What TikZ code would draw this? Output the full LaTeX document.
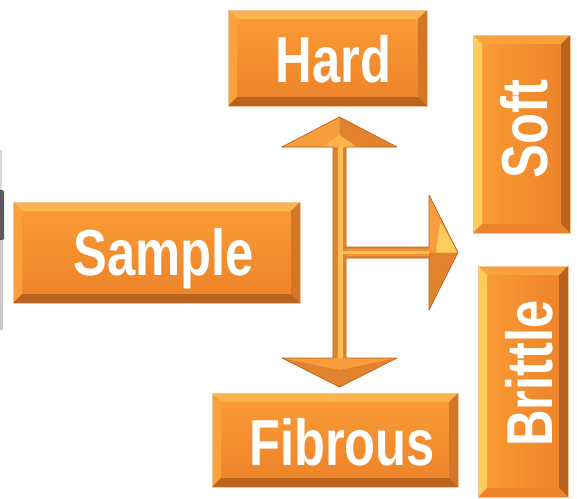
\documentclass[tikz,border=0pt]{standalone}
\usepackage{fontspec}
\setmainfont{Liberation Sans}
\usetikzlibrary{calc}
\definecolor{oMain}{HTML}{F7922F}
\definecolor{oTop}{HTML}{FB9C36}
\definecolor{oBot}{HTML}{EC8229}
\definecolor{bLight}{HTML}{FDB44C}
\definecolor{bYel}{HTML}{FFCC5E}
\definecolor{bMid}{HTML}{F9A23C}
\definecolor{bDark}{HTML}{B9631F}
\definecolor{bDark2}{HTML}{D27629}
\definecolor{bEdge}{HTML}{F2C49A}
\definecolor{aLine}{HTML}{B8621F}
\definecolor{aL}{HTML}{F99C3C}
\definecolor{aD}{HTML}{E3822D}
\definecolor{aStripe}{HTML}{FDBE5A}
\newcommand{\bevcorners}{%
  \path (path picture bounding box.north west) coordinate (pnw)
        (path picture bounding box.south east) coordinate (pse);
  \path (pnw |- pse) coordinate (psw) (pse |- pnw) coordinate (pne);
  \path ([shift={(9pt,-9pt)}]pnw) coordinate (qnw)
        ([shift={(-9pt,-9pt)}]pne) coordinate (qne)
        ([shift={(-9pt,9pt)}]pse) coordinate (qse)
        ([shift={(9pt,9pt)}]psw) coordinate (qsw);
}
\newcommand{\bevelH}{%
  \bevcorners
  \shade[top color=oTop, bottom color=oBot] (pnw) rectangle (pse);
  \fill[bLight] (pnw) -- (pne) -- (qne) -- (qnw) -- cycle;
  \fill[bMid] (pnw) -- (qnw) -- (qsw) -- (psw) -- cycle;
  \fill[bDark2] (pne) -- (pse) -- (qse) -- (qne) -- cycle;
  \fill[bDark] (psw) -- (qsw) -- (qse) -- (pse) -- cycle;
}
\newcommand{\bevelV}{%
  \bevcorners
  \shade[left color=oTop, right color=oBot] (pnw) rectangle (pse);
  \fill[bMid] (pnw) -- (pne) -- (qne) -- (qnw) -- cycle;
  \fill[bYel] (pnw) -- (qnw) -- (qsw) -- (psw) -- cycle;
  \fill[bDark] (pne) -- (pse) -- (qse) -- (qne) -- cycle;
  \fill[oBot] (psw) -- (qsw) -- (qse) -- (pse) -- cycle;
}
\tikzset{
  bx/.style={inner sep=0pt, outer sep=0pt, fill=oMain, draw=bEdge, line width=0.5pt},
  hbx/.style={bx, path picture={\bevelH}},
  vbx/.style={bx, path picture={\bevelV}},
  lbl/.style={inner sep=0pt, text=white, font=\fontsize{65}{70}\selectfont\bfseries, anchor=base},
  afacet/.style={line width=0pt}
}
\begin{document}
\begin{tikzpicture}[x=1pt,y=-1pt]
\useasboundingbox (0,0) rectangle (577,498);
% cropped fragment at left edge
\fill[black!15] (0,150) rectangle (2,190);
\fill[black!65, rounded corners=1.5pt] (-3,190) rectangle (4,240);
\fill[black!20] (0,240) rectangle (3,330);
% boxes
\node[hbx, minimum width=287pt, minimum height=101pt] (sample) at (156.5,252.5) {};
\node[hbx, minimum width=199pt, minimum height=96pt] (hard) at (327.5,58) {};
\node[hbx, minimum width=246pt, minimum height=94pt] (fibrous) at (335,440) {};
\node[vbx, minimum width=97pt, minimum height=198pt] (soft) at (521.5,134) {};
\node[vbx, minimum width=90pt, minimum height=231pt] (brittle) at (523,381.5) {};
% labels
\node[lbl] (sampleT) at (164,275) {\scalebox{0.78}[1]{Sample}};
\node[lbl] (hardT) at (333.5,82) {\scalebox{0.78}[1]{Hard}};
\node[lbl] (fibrousT) at (342,465) {\scalebox{0.78}[1]{Fibrous}};
\node[lbl, rotate=90] (softT) at (547,129) {\scalebox{0.78}[1]{Soft}};
\node[lbl, rotate=90] (brittleT) at (552,373.5) {\scalebox{0.78}[1]{Brittle}};
% three-way arrow
\coordinate (J) at (339.5,252.5);
\coordinate (tipU) at (339.5,117);
\coordinate (tipD) at (339.5,387);
\coordinate (tipR) at (458,252.5);
% base shape
\fill[aD] (tipU) -- (397,147) -- (346,147) -- (346,247) -- (429,247) -- (429,195)
  -- (tipR) -- (429,310) -- (429,258) -- (346,258) -- (346,358) -- (397,358)
  -- (tipD) -- (282,358) -- (333,358) -- (333,147) -- (282,147) -- cycle;
% heads facets
\fill[aL] (tipU) -- (282,147) -- (339.5,147) -- cycle;
\fill[bLight] (339.5,135) -- (322,147) -- (357,147) -- cycle;
\fill[aL] (282,358) -- (397,358) -- (339.5,370) -- cycle;
\fill[aL] (429,195) -- (tipR) -- (429,252.5) -- cycle;
\fill[bYel] (440,222) -- (tipR) -- (436,252.5) -- cycle;
% shafts
\fill[aStripe] (338,147) rectangle (343,358);
\fill[oMain] (346,249) rectangle (429,256);
\fill[aStripe] (343,250.5) rectangle (429,253.5);
% outline
\draw[aLine, line width=0.7pt, line join=round] (tipU) -- (397,147) -- (346,147) -- (346,247) -- (429,247) -- (429,195)
  -- (tipR) -- (429,310) -- (429,258) -- (346,258) -- (346,358) -- (397,358)
  -- (tipD) -- (282,358) -- (333,358) -- (333,147) -- (282,147) -- cycle;
\end{tikzpicture}
\end{document}
